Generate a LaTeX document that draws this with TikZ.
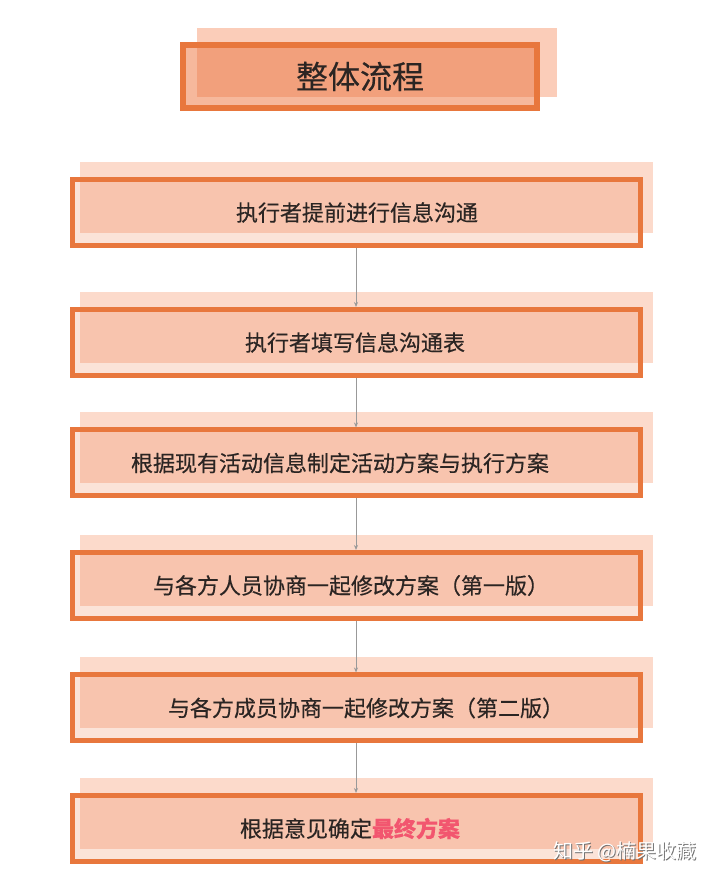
\documentclass[tikz,border=0pt]{standalone}
\usepackage{fontspec}
\setmainfont{Noto Sans CJK SC}
\newfontfamily\stepfont[FakeBold=0.4]{Noto Sans CJK SC}
\usetikzlibrary{arrows.meta,backgrounds}

\definecolor{boxline}{HTML}{E8773D}
\definecolor{boxlight}{HTML}{FBE3D8}
\definecolor{boxmid}{HTML}{F8C4AE}
\definecolor{boxshade}{HTML}{FCDACB}
\definecolor{headlight}{HTML}{F6B89C}
\definecolor{headmid}{HTML}{F2A07C}
\definecolor{headshade}{HTML}{FBCDB9}
\definecolor{finaltext}{HTML}{F2566F}
\definecolor{steptext}{HTML}{2B2523}

\tikzset{
  stepbox/.style={draw=boxline, line width=5pt, fill=boxlight,
    minimum width=568pt, minimum height=66pt,
    path picture={\fill[boxmid] ([shift={(7.5pt,12.5pt)}]path picture bounding box.south west) rectangle (path picture bounding box.north east);}},
  headbox/.style={draw=boxline, line width=6pt, fill=headlight,
    minimum width=354pt, minimum height=63pt,
    path picture={\fill[headmid] ([shift={(14pt,11pt)}]path picture bounding box.south west) rectangle (path picture bounding box.north east);}},
  steplabel/.style={text=steptext, font=\stepfont\fontsize{22}{26}\selectfont, inner sep=0pt},
  link/.style={draw=gray!80, line width=0.8pt, -{Stealth[length=5pt,width=4pt]}},
  wmtext/.style={font=\fontsize{20}{24}\selectfont, inner sep=0pt}
}

\begin{document}
\begin{tikzpicture}[x=1pt, y=1pt]
    \useasboundingbox (0,0) rectangle (720,883);

    \node[headbox] (head) at (360,806.5) {};
    \node[text=steptext, font=\stepfont\fontsize{32}{38}\selectfont, inner sep=0pt] (headtxt) at (head) {整体流程};

    \node[stepbox] (b1) at (356,670.5) {};
    \node[stepbox] (b2) at (356,540.5) {};
    \node[stepbox] (b3) at (356,420)   {};
    \node[stepbox] (b4) at (356,297.5) {};
    \node[stepbox] (b5) at (356,175)   {};
    \node[stepbox] (b6) at (356,54.5)  {};

    \node[steplabel] (t1) at ([xshift=1pt]b1)   {执行者提前进行信息沟通};
    \node[steplabel] (t2) at ([xshift=-1pt]b2)  {执行者填写信息沟通表};
    \node[steplabel] (t3) at ([xshift=-16pt]b3) {根据现有活动信息制定活动方案与执行方案};
    \node[steplabel] (t4) at ([xshift=-5pt]b4)  {与各方人员协商一起修改方案（第一版）};
    \node[steplabel] (t5) at ([xshift=10pt]b5)  {与各方成员协商一起修改方案（第二版）};
    \node[steplabel] (t6) at ([xshift=-6pt]b6)  {根据意见确定\textcolor{finaltext}{\textbf{最终方案}}};

    % shadows behind the boxes
    \begin{scope}[on background layer]
        \fill[headshade] ([shift={(17pt,14pt)}]head.south west) rectangle ([shift={(17pt,14pt)}]head.north east);
        \fill[boxshade] ([shift={(10pt,15pt)}]b1.south west) rectangle ([shift={(10pt,15pt)}]b1.north east);
        \fill[boxshade] ([shift={(10pt,15pt)}]b2.south west) rectangle ([shift={(10pt,15pt)}]b2.north east);
        \fill[boxshade] ([shift={(10pt,15pt)}]b3.south west) rectangle ([shift={(10pt,15pt)}]b3.north east);
        \fill[boxshade] ([shift={(10pt,15pt)}]b4.south west) rectangle ([shift={(10pt,15pt)}]b4.north east);
        \fill[boxshade] ([shift={(10pt,15pt)}]b5.south west) rectangle ([shift={(10pt,15pt)}]b5.north east);
        \fill[boxshade] ([shift={(10pt,15pt)}]b6.south west) rectangle ([shift={(10pt,15pt)}]b6.north east);
    \end{scope}

    \draw[link] (b1.south) -- (b2.north);
    \draw[link] (b2.south) -- (b3.north);
    \draw[link] (b3.south) -- (b4.north);
    \draw[link] (b4.south) -- (b5.north);
    \draw[link] (b5.south) -- (b6.north);

    \node[wmtext, text=black!55] (wmback) at (626.2,29.8) {知乎 @楠果收藏};
    \node[wmtext, text=white] (wm) at (625,31) {知乎 @楠果收藏};
\end{tikzpicture}
\end{document}
